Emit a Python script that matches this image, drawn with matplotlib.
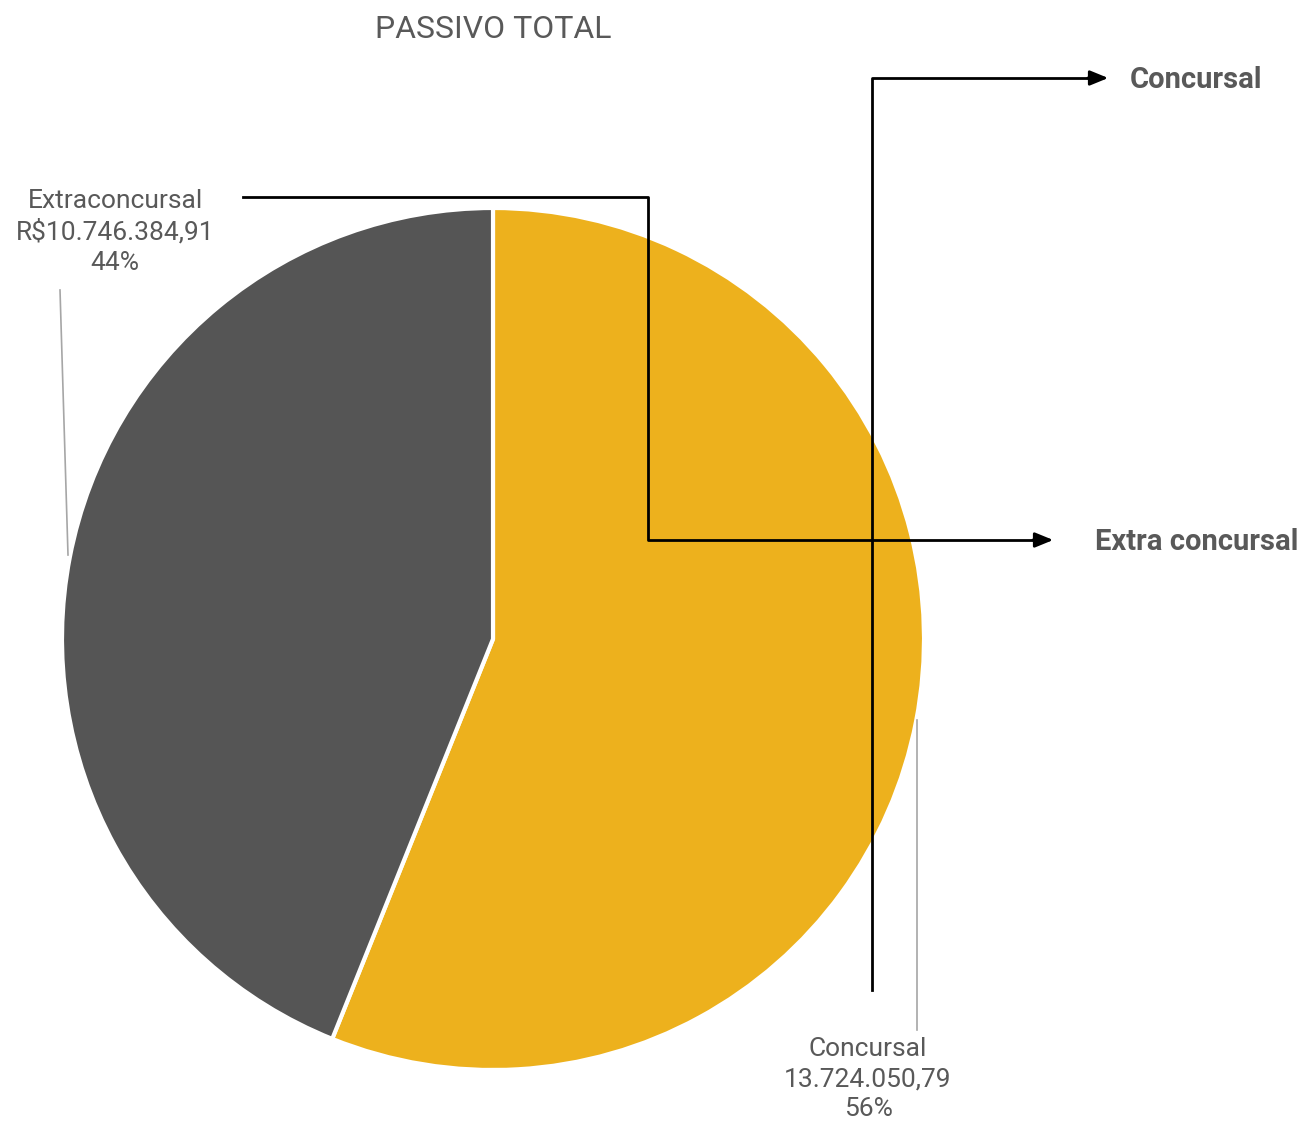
import matplotlib.pyplot as plt

plt.rcParams['font.family'] = ['Roboto', 'DejaVu Sans']

# Data
categories = ['Concursal', 'Extraconcursal']
values = [13724050.79, 10746384.91]
value_labels = ['13.724.050,79', 'R$10.746.384,91']
colors = ['#EDB11D', '#555555']
text_color = '#595959'

W, H = 1305, 1123
fig = plt.figure(figsize=(W / 100, H / 100), dpi=100)
ax = fig.add_axes([0, 0, 1, 1])


def py(y):
    # pixel row from the top -> data y
    return H - y


total = sum(values)
ax.pie(values, colors=colors, startangle=90, counterclock=False,
       center=(493, py(639)), radius=431, frame=True,
       wedgeprops=dict(edgecolor='white', linewidth=3))
ax.set_xlim(0, W)
ax.set_ylim(0, H)
ax.set_aspect('equal')
ax.axis('off')

# title
ax.text(493, py(30), 'PASSIVO TOTAL', ha='center', va='center',
        fontsize=23, color=text_color)

# data labels
pcts = [round(v / total * 100) for v in values]
ax.text(868, py(1079), f'{categories[0]}\n{value_labels[0]}\n{pcts[0]}%',
        ha='center', va='center', fontsize=19, color=text_color,
        linespacing=1.33)
ax.text(115, py(232), f'{categories[1]}\n{value_labels[1]}\n{pcts[1]}%',
        ha='center', va='center', fontsize=19, color=text_color,
        linespacing=1.33)

# leader lines
ax.plot([917, 917], [py(720), py(1030)], color='#A6A6A6', lw=1.2)
ax.plot([60, 68], [py(290), py(555)], color='#A6A6A6', lw=1.2)

# black connector lines with arrows
ax.plot([243, 648, 648, 1040], [py(197), py(197), py(540), py(540)],
        color='black', lw=2)
ax.annotate('', xy=(1056, py(540)), xytext=(1030, py(540)),
            arrowprops=dict(arrowstyle='-|>,head_length=1.1,head_width=0.45',
                            color='black', lw=2))
ax.plot([872, 872, 1095], [py(990), py(78), py(78)], color='black', lw=2)
ax.annotate('', xy=(1111, py(78)), xytext=(1085, py(78)),
            arrowprops=dict(arrowstyle='-|>,head_length=1.1,head_width=0.45',
                            color='black', lw=2))

ax.text(1130, py(80), 'Concursal', ha='left', va='center',
        fontsize=21, fontweight='bold', color=text_color)
ax.text(1095, py(542), 'Extra concursal', ha='left', va='center',
        fontsize=21, fontweight='bold', color=text_color)

fig.savefig('out.png', dpi=100, facecolor='white')
